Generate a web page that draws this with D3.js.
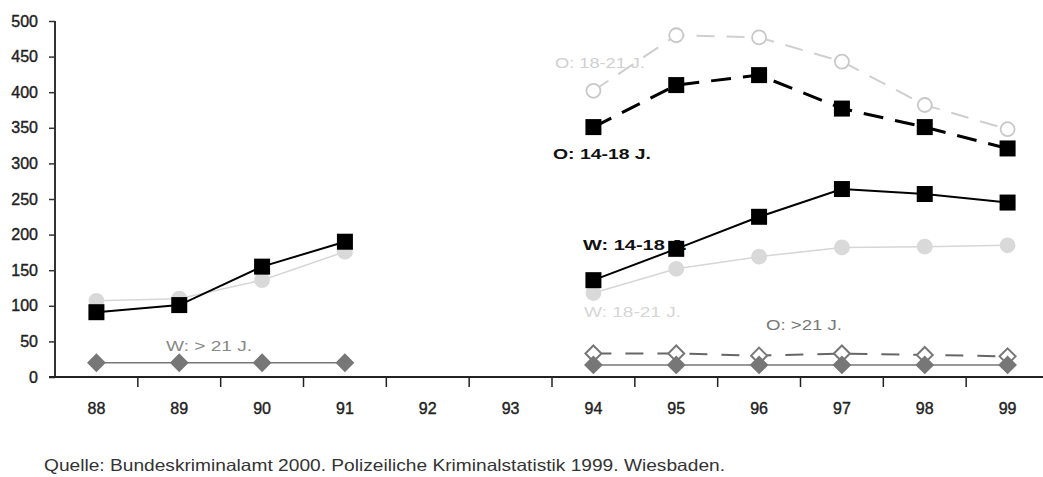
<!DOCTYPE html>
<html>
<head>
<meta charset="utf-8">
<style>
body { margin: 0; background: #fff; }
text { font-family: "Liberation Sans", Arial, sans-serif; }
</style>
</head>
<body>
<script src="https://d3js.org/d3.v7.min.js"></script>
<script>
// years on the x axis (19xx)
var years = ["88", "89", "90", "91", "92", "93", "94", "95", "96", "97", "98", "99"];
var yTicks = [0, 50, 100, 150, 200, 250, 300, 350, 400, 450, 500];

// W = West, O = Ost ; null = no data
var w1418 = [91, 101, 155, 190, null, null, 136, 180, 225, 264, 257, 245];
var w1821 = [107, 110, 136, 176, null, null, 118, 152, 169, 182, 183, 185];
var w21 = [20, 20, 20, 20, null, null, 17, 17, 17, 17, 17, 17];
var o1418 = [null, null, null, null, null, null, 351, 410, 424, 377, 351, 321];
var o1821 = [null, null, null, null, null, null, 402, 480, 477, 443, 382, 348];
var o21 = [null, null, null, null, null, null, 33, 33, 30, 33, 31, 29];

var source = "Quelle: Bundeskriminalamt 2000. Polizeiliche Kriminalstatistik 1999. Wiesbaden.";

var svg = d3.select("body").append("svg")
    .attr("width", 1043)
    .attr("height", 477);

var x = d3.scaleBand().domain(years).range([55, 1049]);
var y = d3.scaleLinear().domain([0, 500]).range([377, 21]);
function cx(d, i) { return x(years[i]) + x.bandwidth() / 2; }

// y axis
var yAxis = svg.append("g")
    .attr("transform", "translate(55,0)")
    .call(d3.axisLeft(y).tickValues(yTicks).tickSize(6).tickPadding(11));
yAxis.select(".domain").attr("stroke", "#333").attr("stroke-width", 2).attr("d", "M0,21V377");
yAxis.selectAll(".tick line").attr("stroke", "#333").attr("stroke-width", 1.5);
yAxis.selectAll(".tick text")
    .attr("font-size", 16)
    .attr("font-family", "Liberation Sans, Arial, sans-serif")
    .attr("fill", "#222")
    .attr("stroke", "#222").attr("stroke-width", 0.4);

// x axis: labels at band centres, ticks on band borders
var xAxis = svg.append("g")
    .attr("transform", "translate(0,377)")
    .call(d3.axisBottom(x).tickSize(0).tickPadding(26));
xAxis.select(".domain").attr("stroke", "#222").attr("stroke-width", 2).attr("d", "M49,0H1043");
xAxis.selectAll(".tick text")
    .attr("font-size", 16)
    .attr("font-family", "Liberation Sans, Arial, sans-serif")
    .attr("fill", "#222")
    .attr("stroke", "#222").attr("stroke-width", 0.4);
svg.append("g").selectAll("line")
    .data(years.slice(1))
    .enter().append("line")
    .attr("x1", function (d) { return x(d); })
    .attr("x2", function (d) { return x(d); })
    .attr("y1", 377)
    .attr("y2", 387)
    .attr("stroke", "#222")
    .attr("stroke-width", 1.5);

// series labels
var labels = [
    { t: "O: 18-21 J.", x: 555, y: 68, len: 90, c: "#cfcfcf", w: "normal" },
    { t: "O: 14-18 J.", x: 553, y: 159, len: 98, c: "#111", w: "bold" },
    { t: "W: 14-18 J.", x: 583, y: 250, len: 104, c: "#111", w: "bold" },
    { t: "W: 18-21 J.", x: 584, y: 317, len: 97, c: "#d6d6d6", w: "normal" },
    { t: "O: >21 J.", x: 766, y: 330, len: 76, c: "#777", w: "normal" },
    { t: "W: > 21 J.", x: 166, y: 351, len: 86, c: "#888", w: "normal" }
];
svg.selectAll("text.lab")
    .data(labels)
    .enter().append("text")
    .attr("class", "lab")
    .attr("x", function (d) { return d.x; })
    .attr("y", function (d) { return d.y; })
    .attr("font-size", 14.5)
    .attr("font-weight", function (d) { return d.w; })
    .attr("fill", function (d) { return d.c; })
    .attr("textLength", function (d) { return d.len; })
    .attr("lengthAdjust", "spacingAndGlyphs")
    .text(function (d) { return d.t; });

function line(values) {
    return d3.line()
        .defined(function (d) { return d != null; })
        .x(cx)
        .y(function (d) { return y(d); })(values);
}

function drawLine(values, color, width, dash) {
    svg.append("path")
        .attr("d", line(values))
        .attr("fill", "none")
        .attr("stroke", color)
        .attr("stroke-width", width)
        .attr("stroke-dasharray", dash);
}

function pts(values) {
    var out = [];
    values.forEach(function (v, i) { if (v != null) out.push({ x: cx(v, i), y: y(v) }); });
    return out;
}

function drawSquares(values, color) {
    svg.append("g").selectAll("rect")
        .data(pts(values))
        .enter().append("rect")
        .attr("x", function (d) { return d.x - 8; })
        .attr("y", function (d) { return d.y - 8; })
        .attr("width", 16)
        .attr("height", 16)
        .attr("fill", color);
}

function drawCircles(values, fill, stroke, r) {
    svg.append("g").selectAll("circle")
        .data(pts(values))
        .enter().append("circle")
        .attr("cx", function (d) { return d.x; })
        .attr("cy", function (d) { return d.y; })
        .attr("r", r)
        .attr("fill", fill)
        .attr("stroke", stroke)
        .attr("stroke-width", 1.8);
}

function drawDiamonds(values, fill, stroke) {
    svg.append("g").selectAll("path")
        .data(pts(values))
        .enter().append("path")
        .attr("d", function (d) { return "M" + d.x + "," + (d.y - 8) + "L" + (d.x + 8) + "," + d.y + "L" + d.x + "," + (d.y + 8) + "L" + (d.x - 8) + "," + d.y + "Z"; })
        .attr("fill", fill)
        .attr("stroke", stroke)
        .attr("stroke-width", 2);
}

// Ost 18-21 (light, dashed, open circles)
drawLine(o1821, "#cfcfcf", 2, "18,12");
drawCircles(o1821, "#fff", "#c8c8c8", 7);

// West 18-21 (light grey, solid, filled circles)
drawLine(w1821, "#d6d6d6", 1.5, null);
drawCircles(w1821, "#d9d9d9", "#d9d9d9", 7);

// Ost 14-18 (black dashed squares)
drawLine(o1418, "#000", 3, "20,12");
drawSquares(o1418, "#000");

// West 14-18 (black solid squares)
drawLine(w1418, "#000", 2, null);
drawSquares(w1418, "#000");

// Ost > 21 (dashed, open diamonds)
drawLine(o21, "#666", 2, "18,14");
drawDiamonds(o21, "#fff", "#777");

// West > 21 (filled diamonds)
drawLine(w21, "#777", 1.5, null);
drawDiamonds(w21, "#777", "#777");

// source line
svg.append("text")
    .attr("x", 44)
    .attr("y", 471)
    .attr("font-size", 16.5)
    .attr("fill", "#333")
    .attr("textLength", 681)
    .attr("lengthAdjust", "spacingAndGlyphs")
    .text(source);
</script>
</body>
</html>
